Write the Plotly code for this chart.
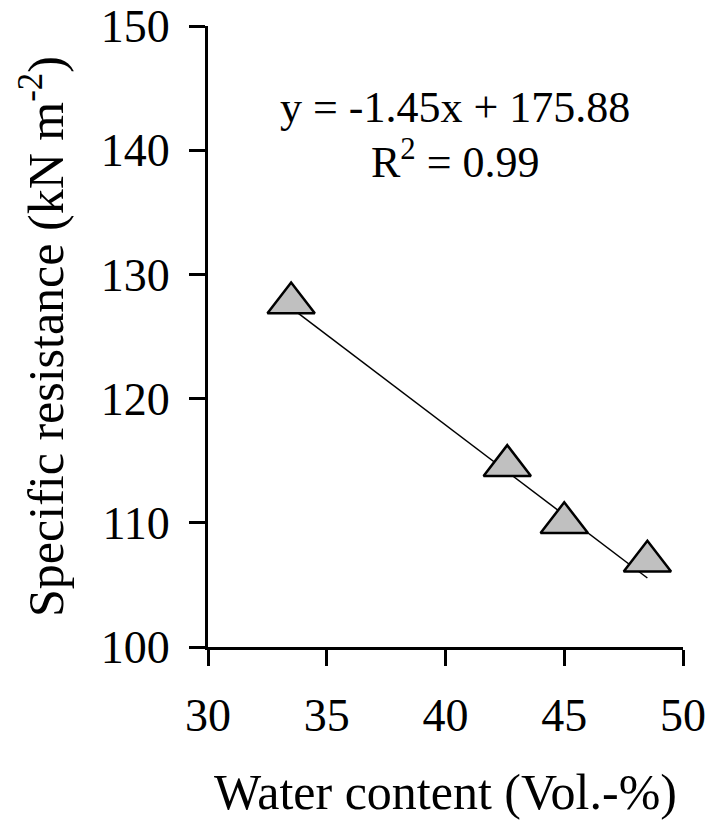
import plotly.graph_objects as go

# Data
water_content = [33.5, 42.6, 45.0, 48.5]          # Vol.-%
specific_resistance = [127.7, 114.6, 110.0, 106.9]  # kN m-2

# Trend line coefficients as printed on the chart
trend_slope = -1.45
trend_intercept = 175.88
r_squared = 0.99

x_ticks = [30, 35, 40, 45, 50]
y_ticks = [100, 110, 120, 130, 140, 150]

FONT = "Liberation Serif, Times New Roman, serif"

x_line = [min(water_content), max(water_content)]
y_line = [trend_slope * v + trend_intercept for v in x_line]

fig = go.Figure()
fig.add_trace(go.Scatter(
    x=x_line, y=y_line, mode="lines",
    line=dict(color="black", width=1.5),
    showlegend=False, hoverinfo="skip",
))
fig.add_trace(go.Scatter(
    x=water_content, y=specific_resistance, mode="markers",
    marker=dict(symbol="triangle-up", size=41, color="#c0c0c0",
                line=dict(color="black", width=2.5)),
    showlegend=False,
))

eq_text = f"y = {trend_slope:.2f}x + {trend_intercept:.2f}"
r2_text = f"R<sup>2</sup> = {r_squared:.2f}"

fig.add_annotation(x=0.52, y=0.8695, xref="paper", yref="paper",
                   xanchor="center", yanchor="middle",
                   text=eq_text, showarrow=False,
                   font=dict(family=FONT, size=44, color="black"))
fig.add_annotation(x=0.52, y=0.785, xref="paper", yref="paper",
                   xanchor="center", yanchor="middle",
                   text=r2_text, showarrow=False,
                   font=dict(family=FONT, size=44, color="black"))

fig.update_layout(
    width=713, height=825,
    margin=dict(l=208, r=30, t=26, b=178),
    paper_bgcolor="white", plot_bgcolor="white",
    font=dict(family=FONT, color="black"),
)
fig.update_xaxes(
    range=[30, 50], tickvals=x_ticks, ticktext=[str(v) for v in x_ticks],
    showgrid=False, zeroline=False, automargin=False,
    showline=True, linecolor="black", linewidth=3,
    ticks="outside", ticklen=16, tickwidth=3, tickcolor="black",
    tickfont=dict(family=FONT, size=46, color="black"),
    ticklabelstandoff=10,
    title=dict(text="Water content (Vol.-%)", standoff=34,
               font=dict(family=FONT, size=50, color="black")),
)
fig.update_yaxes(
    range=[100, 150], tickvals=y_ticks, ticktext=[str(v) for v in y_ticks],
    showgrid=False, zeroline=False, automargin=False,
    showline=True, linecolor="black", linewidth=3,
    ticks="outside", ticklen=16, tickwidth=3, tickcolor="black",
    tickfont=dict(family=FONT, size=46, color="black"),
    ticklabelstandoff=10,
    title=dict(text="Specific resistance (kN m<sup>-2</sup>)", standoff=22,
               font=dict(family=FONT, size=50, color="black")),
)

fig.write_html("out.html")
